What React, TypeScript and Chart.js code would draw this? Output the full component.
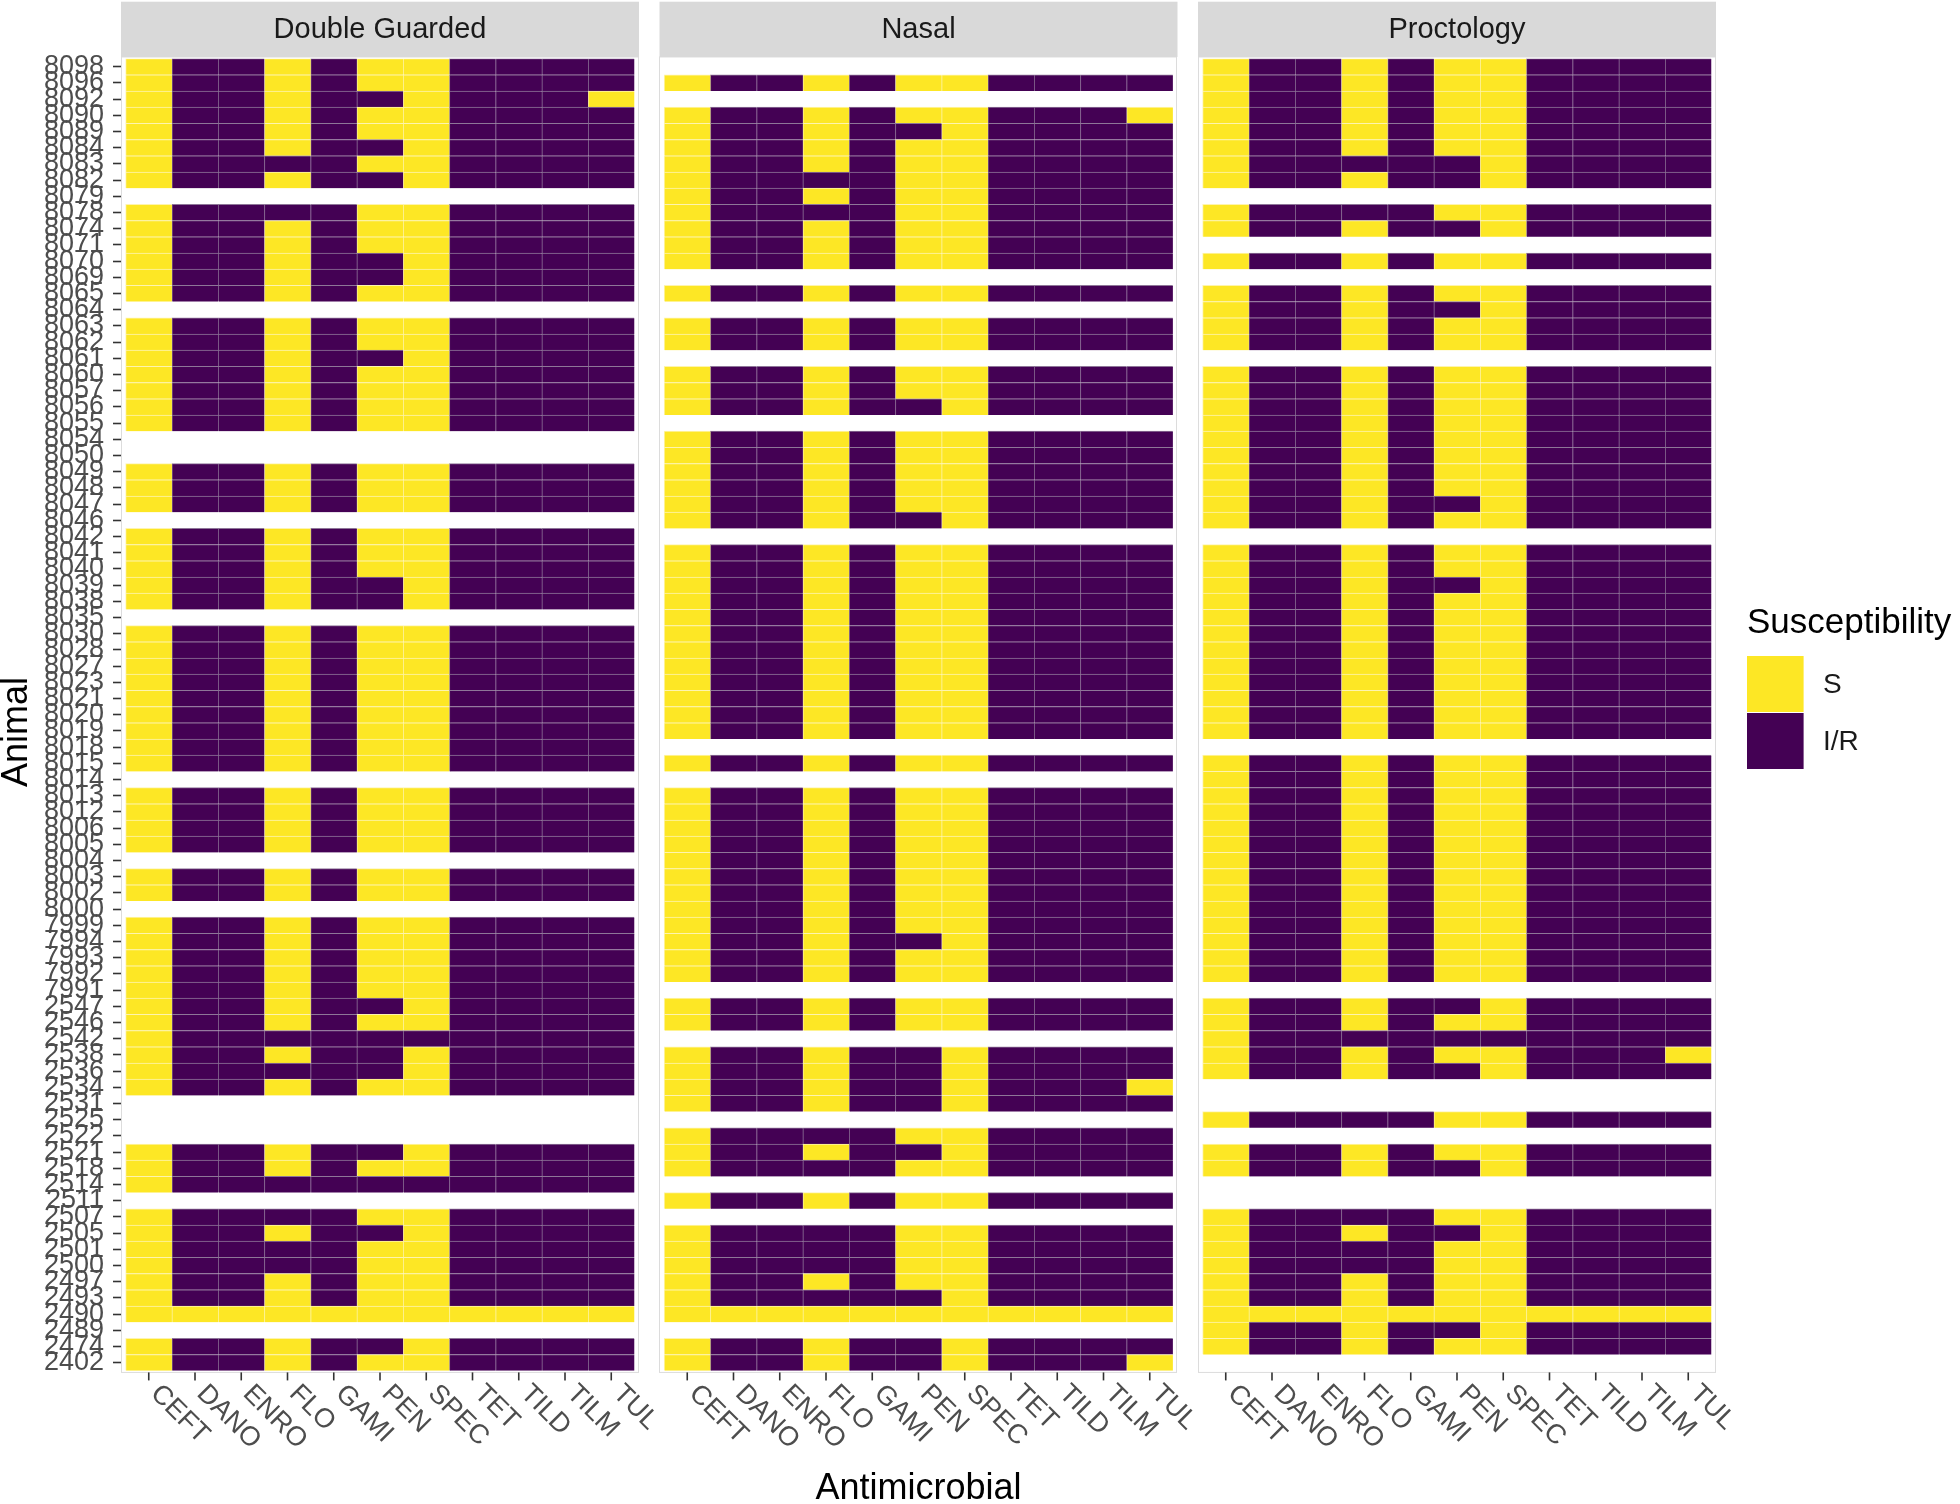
import React, { useEffect, useRef } from 'react';
import { Chart, registerables } from 'chart.js';

Chart.register(...registerables);

// ---- Data ----
const animals: string[] = [
  '8098', '8096', '8092', '8090', '8089', '8084', '8083', '8082', '8079', '8078',
  '8074', '8071', '8070', '8069', '8065', '8064', '8063', '8062', '8061', '8060',
  '8057', '8056', '8055', '8054', '8050', '8049', '8048', '8047', '8046', '8042',
  '8041', '8040', '8039', '8038', '8035', '8030', '8028', '8027', '8023', '8021',
  '8020', '8019', '8018', '8015', '8014', '8013', '8012', '8006', '8005', '8004',
  '8003', '8002', '8000', '7999', '7994', '7993', '7992', '7991', '2547', '2546',
  '2542', '2538', '2536', '2534', '2531', '2525', '2522', '2521', '2518', '2514',
  '2511', '2507', '2505', '2501', '2500', '2497', '2493', '2490', '2489', '2474', '2402',
];

const antimicrobials: string[] = ['CEFT', 'DANO', 'ENRO', 'FLO', 'GAMI', 'PEN', 'SPEC', 'TET', 'TILD', 'TILM', 'TUL'];

const locations: string[] = ['Double Guarded', 'Nasal', 'Proctology'];

// One string per animal (same order as `animals`), one letter per antimicrobial:
// S = susceptible, R = intermediate/resistant, '' = no isolate
const doubleGuarded: string[] = [
  'SRRSRSSRRRR', 'SRRSRSSRRRR', 'SRRSRRSRRRS', 'SRRSRSSRRRR', 'SRRSRSSRRRR',
  'SRRSRRSRRRR', 'SRRRRSSRRRR', 'SRRSRRSRRRR', '', 'SRRRRSSRRRR',
  'SRRSRSSRRRR', 'SRRSRSSRRRR', 'SRRSRRSRRRR', 'SRRSRRSRRRR', 'SRRSRSSRRRR',
  '', 'SRRSRSSRRRR', 'SRRSRSSRRRR', 'SRRSRRSRRRR', 'SRRSRSSRRRR',
  'SRRSRSSRRRR', 'SRRSRSSRRRR', 'SRRSRSSRRRR', '', '',
  'SRRSRSSRRRR', 'SRRSRSSRRRR', 'SRRSRSSRRRR', '', 'SRRSRSSRRRR',
  'SRRSRSSRRRR', 'SRRSRSSRRRR', 'SRRSRRSRRRR', 'SRRSRRSRRRR', '',
  'SRRSRSSRRRR', 'SRRSRSSRRRR', 'SRRSRSSRRRR', 'SRRSRSSRRRR', 'SRRSRSSRRRR',
  'SRRSRSSRRRR', 'SRRSRSSRRRR', 'SRRSRSSRRRR', 'SRRSRSSRRRR', '',
  'SRRSRSSRRRR', 'SRRSRSSRRRR', 'SRRSRSSRRRR', 'SRRSRSSRRRR', '',
  'SRRSRSSRRRR', 'SRRSRSSRRRR', '', 'SRRSRSSRRRR', 'SRRSRSSRRRR',
  'SRRSRSSRRRR', 'SRRSRSSRRRR', 'SRRSRSSRRRR', 'SRRSRRSRRRR', 'SRRSRSSRRRR',
  'SRRRRRRRRRR', 'SRRSRRSRRRR', 'SRRRRRSRRRR', 'SRRSRSSRRRR', '',
  '', '', 'SRRSRRSRRRR', 'SRRSRSSRRRR', 'SRRRRRRRRRR',
  '', 'SRRRRSSRRRR', 'SRRSRRSRRRR', 'SRRRRSSRRRR', 'SRRRRSSRRRR',
  'SRRSRSSRRRR', 'SRRSRSSRRRR', 'SSSSSSSSSSS', '', 'SRRSRRSRRRR', 'SRRSRSSRRRR',
];

const nasal: string[] = [
  '', 'SRRSRSSRRRR', '', 'SRRSRSSRRRS', 'SRRSRRSRRRR',
  'SRRSRSSRRRR', 'SRRSRSSRRRR', 'SRRRRSSRRRR', 'SRRSRSSRRRR', 'SRRRRSSRRRR',
  'SRRSRSSRRRR', 'SRRSRSSRRRR', 'SRRSRSSRRRR', '', 'SRRSRSSRRRR',
  '', 'SRRSRSSRRRR', 'SRRSRSSRRRR', '', 'SRRSRSSRRRR',
  'SRRSRSSRRRR', 'SRRSRRSRRRR', '', 'SRRSRSSRRRR', 'SRRSRSSRRRR',
  'SRRSRSSRRRR', 'SRRSRSSRRRR', 'SRRSRSSRRRR', 'SRRSRRSRRRR', '',
  'SRRSRSSRRRR', 'SRRSRSSRRRR', 'SRRSRSSRRRR', 'SRRSRSSRRRR', 'SRRSRSSRRRR',
  'SRRSRSSRRRR', 'SRRSRSSRRRR', 'SRRSRSSRRRR', 'SRRSRSSRRRR', 'SRRSRSSRRRR',
  'SRRSRSSRRRR', 'SRRSRSSRRRR', '', 'SRRSRSSRRRR', '',
  'SRRSRSSRRRR', 'SRRSRSSRRRR', 'SRRSRSSRRRR', 'SRRSRSSRRRR', 'SRRSRSSRRRR',
  'SRRSRSSRRRR', 'SRRSRSSRRRR', 'SRRSRSSRRRR', 'SRRSRSSRRRR', 'SRRSRRSRRRR',
  'SRRSRSSRRRR', 'SRRSRSSRRRR', '', 'SRRSRSSRRRR', 'SRRSRSSRRRR',
  '', 'SRRSRRSRRRR', 'SRRSRRSRRRR', 'SRRSRRSRRRS', 'SRRSRRSRRRR',
  '', 'SRRRRSSRRRR', 'SRRSRRSRRRR', 'SRRRRSSRRRR', '',
  'SRRSRSSRRRR', '', 'SRRRRSSRRRR', 'SRRRRSSRRRR', 'SRRRRSSRRRR',
  'SRRSRSSRRRR', 'SRRRRRSRRRR', 'SSSSSSSSSSS', '', 'SRRSRRSRRRR', 'SRRSRRSRRRS',
];

const proctology: string[] = [
  'SRRSRSSRRRR', 'SRRSRSSRRRR', 'SRRSRSSRRRR', 'SRRSRSSRRRR', 'SRRSRSSRRRR',
  'SRRSRSSRRRR', 'SRRRRRSRRRR', 'SRRSRRSRRRR', '', 'SRRRRSSRRRR',
  'SRRSRRSRRRR', '', 'SRRSRSSRRRR', '', 'SRRSRSSRRRR',
  'SRRSRRSRRRR', 'SRRSRSSRRRR', 'SRRSRSSRRRR', '', 'SRRSRSSRRRR',
  'SRRSRSSRRRR', 'SRRSRSSRRRR', 'SRRSRSSRRRR', 'SRRSRSSRRRR', 'SRRSRSSRRRR',
  'SRRSRSSRRRR', 'SRRSRSSRRRR', 'SRRSRRSRRRR', 'SRRSRSSRRRR', '',
  'SRRSRSSRRRR', 'SRRSRSSRRRR', 'SRRSRRSRRRR', 'SRRSRSSRRRR', 'SRRSRSSRRRR',
  'SRRSRSSRRRR', 'SRRSRSSRRRR', 'SRRSRSSRRRR', 'SRRSRSSRRRR', 'SRRSRSSRRRR',
  'SRRSRSSRRRR', 'SRRSRSSRRRR', '', 'SRRSRSSRRRR', 'SRRSRSSRRRR',
  'SRRSRSSRRRR', 'SRRSRSSRRRR', 'SRRSRSSRRRR', 'SRRSRSSRRRR', 'SRRSRSSRRRR',
  'SRRSRSSRRRR', 'SRRSRSSRRRR', 'SRRSRSSRRRR', 'SRRSRSSRRRR', 'SRRSRSSRRRR',
  'SRRSRSSRRRR', 'SRRSRSSRRRR', '', 'SRRSRRSRRRR', 'SRRSRSSRRRR',
  'SRRRRRRRRRR', 'SRRSRSSRRRS', 'SRRSRRSRRRR', '', '',
  'SRRRRSSRRRR', '', 'SRRSRSSRRRR', 'SRRSRRSRRRR', '',
  '', 'SRRRRSSRRRR', 'SRRSRRSRRRR', 'SRRRRSSRRRR', 'SRRRRSSRRRR',
  'SRRSRSSRRRR', 'SRRSRSSRRRR', 'SSSSSSSSSSS', 'SRRSRRSRRRR', 'SRRSRSSRRRR', '',
];

const legendCodes: string[] = ['S', 'R'];
const legendLabels: string[] = ['S', 'I/R'];
const legendTitle = 'Susceptibility';
const xTitle = 'Antimicrobial';
const yTitle = 'Animal';

// ---- Styling ----
const FILL: Record<string, string> = { S: '#FDE725', R: '#440154' };
const EDGE: Record<string, string> = { S: '#FEF4AE', R: '#8E7698' };
const FONT = '"Liberation Sans", Arial, Helvetica, sans-serif';
const PANEL_SPAN = antimicrobials.length + 0.2; // ggplot discrete expansion (0.6 each side)
const PANEL_GAP = 0.443;
const X_MAX = locations.length * PANEL_SPAN + (locations.length - 1) * PANEL_GAP;

const panelRows: string[][] = [doubleGuarded, nasal, proctology];

function buildDatasets() {
  const sets: any[] = [];
  panelRows.forEach((rows, p) => {
    const offset = p * (PANEL_SPAN + PANEL_GAP);
    antimicrobials.forEach((drug, c) => {
      sets.push({
        label: `${locations[p]} – ${drug}`,
        data: rows.map((r) => (r ? [offset + c + 0.1, offset + c + 1.1] : null)),
        backgroundColor: rows.map((r) => (r ? FILL[r[c]] : 'rgba(0,0,0,0)')),
        borderColor: rows.map((r) => (r ? EDGE[r[c]] : 'rgba(0,0,0,0)')),
        borderWidth: { top: 1, left: 1, right: 0, bottom: 0 },
        borderSkipped: false,
        grouped: false,
        barPercentage: 1,
        categoryPercentage: 1,
      });
    });
  });
  return sets;
}

const decorPlugin = {
  id: 'facetDecor',
  afterDraw(chart: any) {
    const { ctx, chartArea } = chart;
    const xs = chart.scales.x;
    const band = (chartArea.bottom - chartArea.top) / animals.length;
    const panelTop = chartArea.top - 0.1 * band;
    const panelBottom = chartArea.bottom + 0.1 * band;
    const stripTop = 1.7;
    ctx.save();
    locations.forEach((loc, p) => {
      const offset = p * (PANEL_SPAN + PANEL_GAP);
      const left = xs.getPixelForValue(offset);
      const right = xs.getPixelForValue(offset + PANEL_SPAN);
      // panel border
      ctx.strokeStyle = '#DCDCDC';
      ctx.lineWidth = 1;
      ctx.strokeRect(Math.round(left) + 0.5, panelTop, Math.round(right - left) - 1, panelBottom - panelTop);
      // strip
      ctx.fillStyle = '#D9D9D9';
      ctx.fillRect(left, stripTop, right - left, panelTop - stripTop);
      ctx.fillStyle = '#1A1A1A';
      ctx.font = `29px ${FONT}`;
      ctx.textAlign = 'center';
      ctx.textBaseline = 'middle';
      ctx.fillText(loc, (left + right) / 2, (stripTop + panelTop) / 2 + 1);
      // x ticks + labels
      antimicrobials.forEach((drug, c) => {
        const x = xs.getPixelForValue(offset + c + 0.6);
        ctx.strokeStyle = '#333333';
        ctx.lineWidth = 1.6;
        ctx.beginPath();
        ctx.moveTo(x, panelBottom);
        ctx.lineTo(x, panelBottom + 8);
        ctx.stroke();
        ctx.save();
        ctx.translate(x + 6, panelBottom + 17);
        ctx.rotate(Math.PI / 4);
        ctx.fillStyle = '#4D4D4D';
        ctx.font = `27px ${FONT}`;
        ctx.textAlign = 'left';
        ctx.textBaseline = 'middle';
        ctx.fillText(drug, 0, 0);
        ctx.restore();
      });
    });

    // axis titles
    ctx.fillStyle = '#000000';
    ctx.font = `36px ${FONT}`;
    ctx.textAlign = 'center';
    ctx.textBaseline = 'middle';
    const midX = (xs.getPixelForValue(0) + xs.getPixelForValue(X_MAX)) / 2;
    ctx.fillText(xTitle, midX, 1489);
    ctx.save();
    ctx.translate(17, 732);
    ctx.rotate(-Math.PI / 2);
    ctx.fillText(yTitle, 0, 0);
    ctx.restore();

    // legend
    const lx = 1747;
    ctx.textAlign = 'left';
    ctx.textBaseline = 'alphabetic';
    ctx.font = `35px ${FONT}`;
    ctx.fillStyle = '#000000';
    ctx.fillText(legendTitle, lx, 633);
    const keyW = 56.6;
    const keyH = 56;
    legendCodes.forEach((code, i) => {
      const ky = 656 + i * (keyH + 1);
      ctx.fillStyle = FILL[code];
      ctx.fillRect(lx, ky, keyW, keyH);
      ctx.fillStyle = '#1A1A1A';
      ctx.font = `28px ${FONT}`;
      ctx.textBaseline = 'middle';
      ctx.fillText(legendLabels[i], lx + 76, ky + keyH / 2 + 1);
    });
    ctx.restore();
  },
};

export default function App() {
  const canvasRef = useRef<HTMLCanvasElement | null>(null);

  useEffect(() => {
    if (!canvasRef.current) return;
    const chart = new Chart(canvasRef.current, {
      type: 'bar',
      data: { labels: animals, datasets: buildDatasets() },
      options: {
        indexAxis: 'y',
        responsive: false,
        animation: false,
        events: [],
        layout: { padding: { top: 58.6, bottom: 133.2, left: 0, right: 244 } },
        plugins: {
          legend: { display: false },
          tooltip: { enabled: false },
          title: { display: false },
        },
        scales: {
          x: { type: 'linear', min: 0, max: X_MAX, display: false },
          y: {
            type: 'category',
            labels: animals,
            offset: true,
            position: 'left',
            border: { display: false },
            grid: {
              display: true,
              drawOnChartArea: false,
              drawTicks: true,
              tickLength: 8,
              tickColor: '#333333',
              tickWidth: 1.6,
              offset: false,
              color: 'rgba(0,0,0,0)',
            },
            ticks: {
              autoSkip: false,
              padding: 9,
              color: '#4D4D4D',
              font: { family: FONT, size: 27 },
            },
            afterFit: (scale: any) => {
              scale.width = 121;
            },
          },
        },
      } as any,
      plugins: [decorPlugin],
    });
    return () => chart.destroy();
  }, []);

  return (
    <div style={{ position: 'absolute', left: 0, top: 0, width: 1960, height: 1504, background: '#FFFFFF' }}>
      <canvas ref={canvasRef} width={1960} height={1504} style={{ display: 'block' }} />
    </div>
  );
}
